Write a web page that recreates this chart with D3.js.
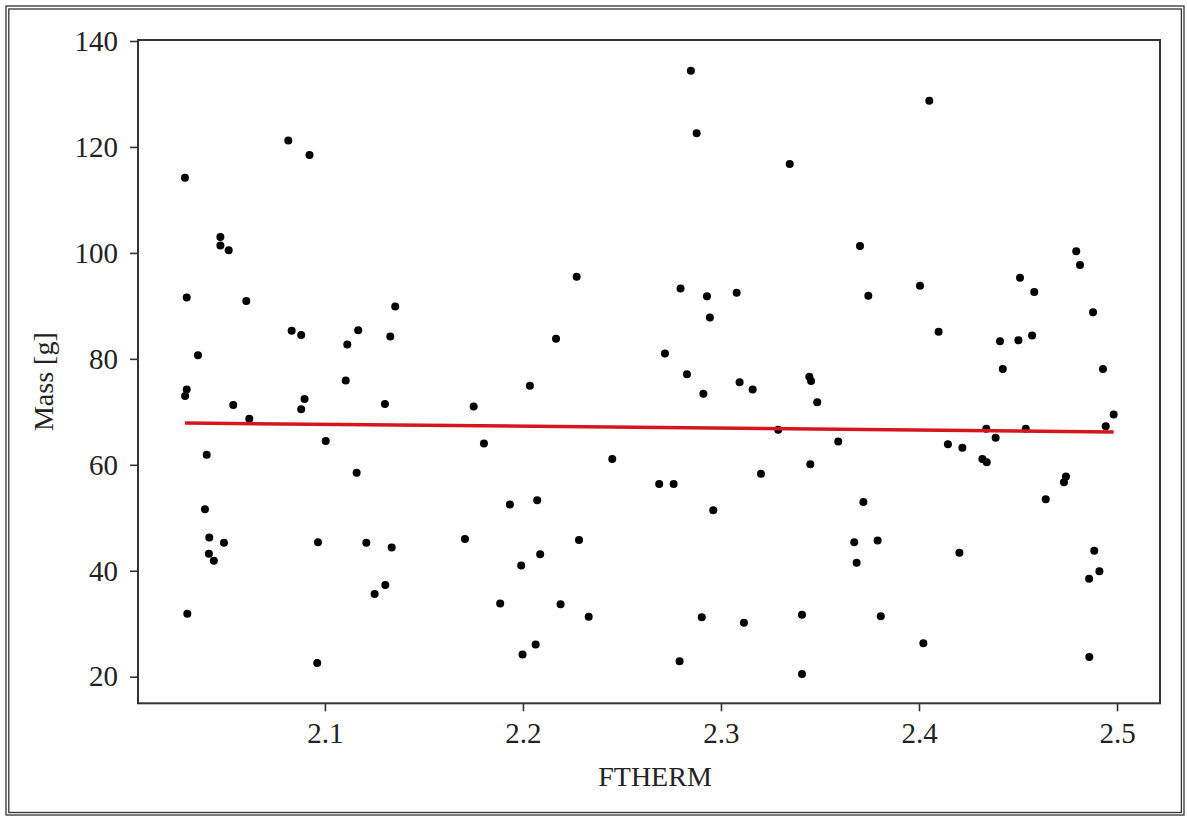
<!DOCTYPE html>
<html>
<head>
<meta charset="utf-8">
<script src="https://cdn.jsdelivr.net/npm/d3@7"></script>
<style>
  body { margin: 0; background: #fff; }
  svg { display: block; }
  .axis text { font-family: "Liberation Serif", "DejaVu Serif", serif; font-size: 29px; fill: #222; }
  .axis path, .axis line { stroke: #333; }
</style>
</head>
<body>
<svg id="chart"></svg>
<script>
const width = 1187;
const height = 816;

// data
const ftherm = [
  2.0293, 2.0815, 2.0922, 2.0472, 2.0472, 2.0514, 2.0302, 2.0603, 2.1355, 2.0832,
  2.0880, 2.1168, 2.1330, 2.1113, 2.0359, 2.0302, 2.0294, 2.0537, 2.0618, 2.0897,
  2.0880, 2.1105, 2.1303, 2.1751, 2.1004, 2.1803, 2.0403, 2.1160, 2.0394, 2.0416,
  2.0490, 2.0414, 2.0439, 2.0965, 2.1209, 2.1337, 2.1707, 2.1305, 2.1251, 2.0305,
  2.0961, 2.2848, 2.2877, 2.3347, 2.2271, 2.2796, 2.2929, 2.3079, 2.2944, 2.2167,
  2.2717, 2.2828, 2.3446, 2.3455, 2.2035, 2.2911, 2.3094, 2.3160, 2.3486, 2.2451,
  2.2688, 2.2761, 2.3202, 2.3451, 2.2961, 2.1934, 2.2072, 2.2283, 2.2087, 2.1991,
  2.1885, 2.2190, 2.2332, 2.2903, 2.3116, 2.3409, 2.2064, 2.1998, 2.2791, 2.3409,
  2.3289, 2.4052, 2.3702, 2.3744, 2.4005, 2.4099, 2.4510, 2.4582, 2.4794, 2.4813,
  2.4879, 2.4409, 2.4502, 2.4571, 2.4423, 2.4929, 2.4983, 2.4943, 2.4340, 2.4539,
  2.4387, 2.3592, 2.4146, 2.4219, 2.4320, 2.4342, 2.4742, 2.4732, 2.4640, 2.3719,
  2.3673, 2.3791, 2.3685, 2.4204, 2.4885, 2.4911, 2.4859, 2.3807, 2.4022, 2.4860
];
const mass = [
  114.2, 121.2, 118.5, 103.0, 101.4, 100.5, 91.6, 90.9, 89.9, 85.3,
  84.5, 85.4, 84.2, 82.7, 80.7, 74.2, 73.0, 71.3, 68.7, 72.4,
  70.5, 75.9, 71.5, 71.0, 64.5, 64.0, 61.9, 58.5, 51.6, 46.3,
  45.3, 43.2, 41.9, 45.4, 45.3, 44.4, 46.0, 37.3, 35.6, 31.9,
  22.6, 134.4, 122.6, 116.8, 95.5, 93.3, 91.8, 92.5, 87.8, 83.8,
  81.0, 77.1, 76.6, 75.8, 74.9, 73.4, 75.6, 74.2, 71.8, 61.1,
  56.4, 56.4, 58.3, 60.1, 51.4, 52.5, 53.3, 45.8, 43.1, 41.0,
  33.8, 33.7, 31.3, 31.2, 30.2, 31.7, 26.1, 24.2, 22.9, 20.5,
  66.6, 128.7, 101.3, 91.9, 93.8, 85.1, 95.3, 92.6, 100.3, 97.7,
  88.8, 83.3, 83.5, 84.4, 78.1, 78.1, 69.5, 67.3, 66.8, 66.8,
  65.1, 64.4, 63.9, 63.2, 61.1, 60.5, 57.8, 56.7, 53.5, 53.0,
  45.4, 45.7, 41.5, 43.4, 43.8, 39.9, 38.5, 31.4, 26.3, 23.7
];

// fitted line end points
const fitX = [2.0293, 2.4983];
const fitY = [67.9, 66.2];

const xTicks = [2.1, 2.2, 2.3, 2.4, 2.5];
const yTicks = [20, 40, 60, 80, 100, 120, 140];
const xDomain = [2.0056, 2.5217];
const yDomain = [14.98, 140.19];

const plot = { left: 138, right: 1160, top: 40, bottom: 703.3 };

const svg = d3.select("#chart")
  .attr("width", width)
  .attr("height", height);

// double outer frame
svg.append("rect")
  .attr("x", 6).attr("y", 6)
  .attr("width", 1178).attr("height", 809)
  .attr("fill", "none").attr("stroke", "#333").attr("stroke-width", 1.3);
svg.append("rect")
  .attr("x", 8.8).attr("y", 9)
  .attr("width", 1172.6).attr("height", 803.5)
  .attr("fill", "none").attr("stroke", "#333").attr("stroke-width", 1.3);

const xScale = d3.scaleLinear().domain(xDomain).range([plot.left, plot.right]);
const yScale = d3.scaleLinear().domain(yDomain).range([plot.bottom, plot.top]);

const xAxis = d3.axisBottom(xScale)
  .tickValues(xTicks)
  .tickFormat(d3.format(".1f"))
  .tickSize(8)
  .tickPadding(11)
  .tickSizeOuter(0);

const yAxis = d3.axisLeft(yScale)
  .tickValues(yTicks)
  .tickFormat(d3.format("d"))
  .tickSize(8)
  .tickPadding(12)
  .tickSizeOuter(0);

const gx = svg.append("g")
  .attr("class", "axis")
  .attr("transform", `translate(0, ${plot.bottom})`)
  .call(xAxis);
gx.select(".domain").remove();
gx.selectAll(".tick line").attr("stroke-width", 1.6);

const gy = svg.append("g")
  .attr("class", "axis")
  .attr("transform", `translate(${plot.left}, 0)`)
  .call(yAxis);
gy.select(".domain").remove();
gy.selectAll(".tick line").attr("stroke-width", 1.6);

// plot frame
svg.append("rect")
  .attr("x", plot.left).attr("y", plot.top)
  .attr("width", plot.right - plot.left)
  .attr("height", plot.bottom - plot.top)
  .attr("fill", "none")
  .attr("stroke", "#333")
  .attr("stroke-width", 2);

// axis titles
svg.append("text")
  .attr("x", (plot.left + plot.right) / 2 + 6)
  .attr("y", 786)
  .attr("text-anchor", "middle")
  .style("font-family", "'Liberation Serif', serif")
  .style("font-size", "28px")
  .style("fill", "#222")
  .text("FTHERM");

svg.append("text")
  .attr("transform", `translate(53, ${(plot.top + plot.bottom) / 2 + 10}) rotate(-90)`)
  .attr("text-anchor", "middle")
  .style("font-family", "'Liberation Serif', serif")
  .style("font-size", "28px")
  .style("fill", "#222")
  .text("Mass [g]");

const points = ftherm.map((x, i) => [x, mass[i]]);

svg.selectAll(".dot")
  .data(points)
  .enter()
  .append("circle")
  .attr("class", "dot")
  .attr("cx", d => xScale(d[0]))
  .attr("cy", d => yScale(d[1]))
  .attr("r", 4)
  .attr("fill", "#000");

const line = d3.line()
  .x(d => xScale(d[0]))
  .y(d => yScale(d[1]));

svg.append("path")
  .datum(fitX.map((x, i) => [x, fitY[i]]))
  .attr("d", line)
  .attr("fill", "none")
  .attr("stroke", "#d4171e")
  .attr("stroke-width", 3.5);
</script>
</body>
</html>
